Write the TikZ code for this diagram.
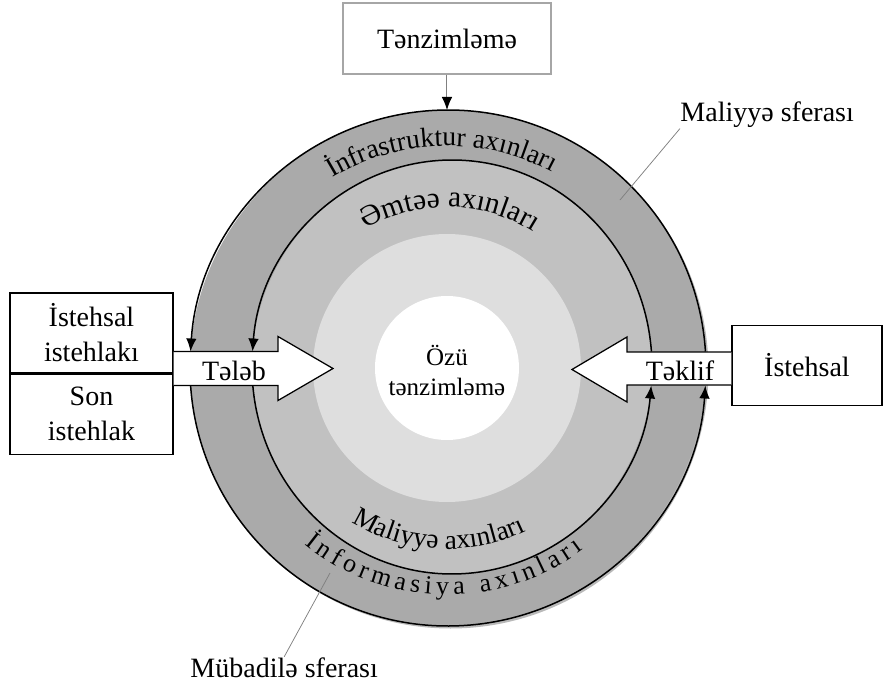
\documentclass[tikz,border=0pt]{standalone}
\usepackage{fontspec}
\setmainfont{Liberation Serif}
\usetikzlibrary{positioning}
\usetikzlibrary{arrows.meta}
\usetikzlibrary{decorations.text}

\definecolor{outerring}{RGB}{170,170,170}
\definecolor{midring}{RGB}{193,193,193}
\definecolor{innerring}{RGB}{222,222,222}

\newcommand{\boxfont}{\fontsize{11.2}{14}\selectfont}
\newcommand{\topringfont}{\fontsize{11}{13}\selectfont}
\newcommand{\goodsfont}{\fontsize{11.8}{13}\selectfont}
\newcommand{\botringfont}{\fontsize{11}{13}\selectfont}
\newcommand{\infofont}{\fontsize{10.4}{12}\selectfont}

\tikzset{
  cell/.style={draw, line width=0.5pt, minimum width=65.2pt, minimum height=32pt,
    align=center, inner sep=0pt, font=\boxfont},
  lbl/.style={inner sep=0pt, font=\boxfont},
  flowline/.style={line width=0.6pt, -{Latex[length=5.2pt,width=4.2pt]}},
  pointer/.style={gray, line width=0.3pt},
  bigarrow/.style={draw, fill=white, line width=0.5pt},
}

\begin{document}
\begin{tikzpicture}[x=0.4pt,y=0.4pt]
\useasboundingbox (-447,368) rectangle (441,-319);
%\draw[red] (-447,368) rectangle (441,-319);

% spheres
\fill[gray!55] (3.5,-2.5) circle (258);
\fill[outerring] (1,0) circle (258);
\fill[midring] (5,1) ellipse (200 and 207);
\fill[innerring] (0,0) circle (134);
\fill[white] (0,0) circle (72);

% flows round the spheres
\begin{scope}[shift={(1,0)}]
\draw[flowline] (3.67:258) arc[start angle=3.67, end angle=176.33, radius=258];
\draw[flowline] (183.89:258) arc[start angle=183.89, end angle=356.11, radius=258];
\end{scope}
\begin{scope}[shift={(5,1)}]
\draw[flowline] (4.29:200 and 207) arc[start angle=4.29, end angle=175.71, x radius=200, y radius=207];
\draw[flowline] (185.13:200 and 207) arc[start angle=185.13, end angle=354.87, x radius=200, y radius=207];
\end{scope}

% texts on the rings
\path[decorate, decoration={text along path, text align=center,
  text={|\topringfont|İnfrastruktur axınları}}]
  (181.5:222) arc[start angle=181.5, end angle=1.5, radius=222];
\path[decorate, decoration={text along path, text align=center,
  text={|\goodsfont|Əmtəə axınları}}]
  (179:161) arc[start angle=179, end angle=-1, radius=161];
\path[decorate, decoration={text along path, text align=center,
  text={|\botringfont|Maliyyə axınları}}]
  (177:181) arc[start angle=177, end angle=357, radius=181];
\path[decorate, decoration={text along path, text align={fit to path},
  text={|\infofont|İnformasiya axınları}}]
  (231:227) arc[start angle=231, end angle=307, radius=227];

\node[lbl, align=center, font=\fontsize{10}{12}\selectfont] (self) at (0,-2) {Özü\\tənzimləmə};

% demand and supply
\node[cell] (prodcons) at (-355.5,35) {İstehsal\\istehlakı};
\node[cell, below=0pt of prodcons] (finalcons) {Son\\istehlak};
\node[cell, minimum width=60pt] (producer) at (360,2.5) {İstehsal};

\draw[bigarrow] (prodcons.south east |- 0,16.5) -- (-169,16.5) -- (-169,31.5) -- (-114,-0.5)
  -- (-169,-32.5) -- (-169,-17.5) -- (prodcons.south east |- 0,-17.5);
\draw[bigarrow] (producer.west |- 0,16) -- (180,16) -- (180,31) -- (125,-1.5)
  -- (180,-34) -- (180,-17) -- (producer.west |- 0,-17);
\node[lbl, anchor=base] (demand) at (-213,-12) {Tələb};
\node[lbl, anchor=base] (supply) at (233,-12) {Təklif};

% regulation
\node[cell, draw=gray!70, minimum width=83.2pt, minimum height=28.4pt] (tenz) at (0,329.5) {Tənzimləmə};
\coordinate (ctop) at (0,258);
\draw[gray, line width=0.4pt, -{Latex[black,length=5.2pt,width=4.2pt]}] (tenz) -- (ctop);

% spheres names
\node[lbl, anchor=base west] (finsph) at (233,246) {Maliyyə sferası};
\coordinate (finpt) at (173,168);
\draw[pointer] (finsph.south west) -- (finpt);
\node[lbl, anchor=base west] (exsph) at (-257,-309) {Mübadilə sferası};
\coordinate (expt) at (-117,-205);
\draw[pointer] (exsph.north) -- (expt);
\end{tikzpicture}
\end{document}
